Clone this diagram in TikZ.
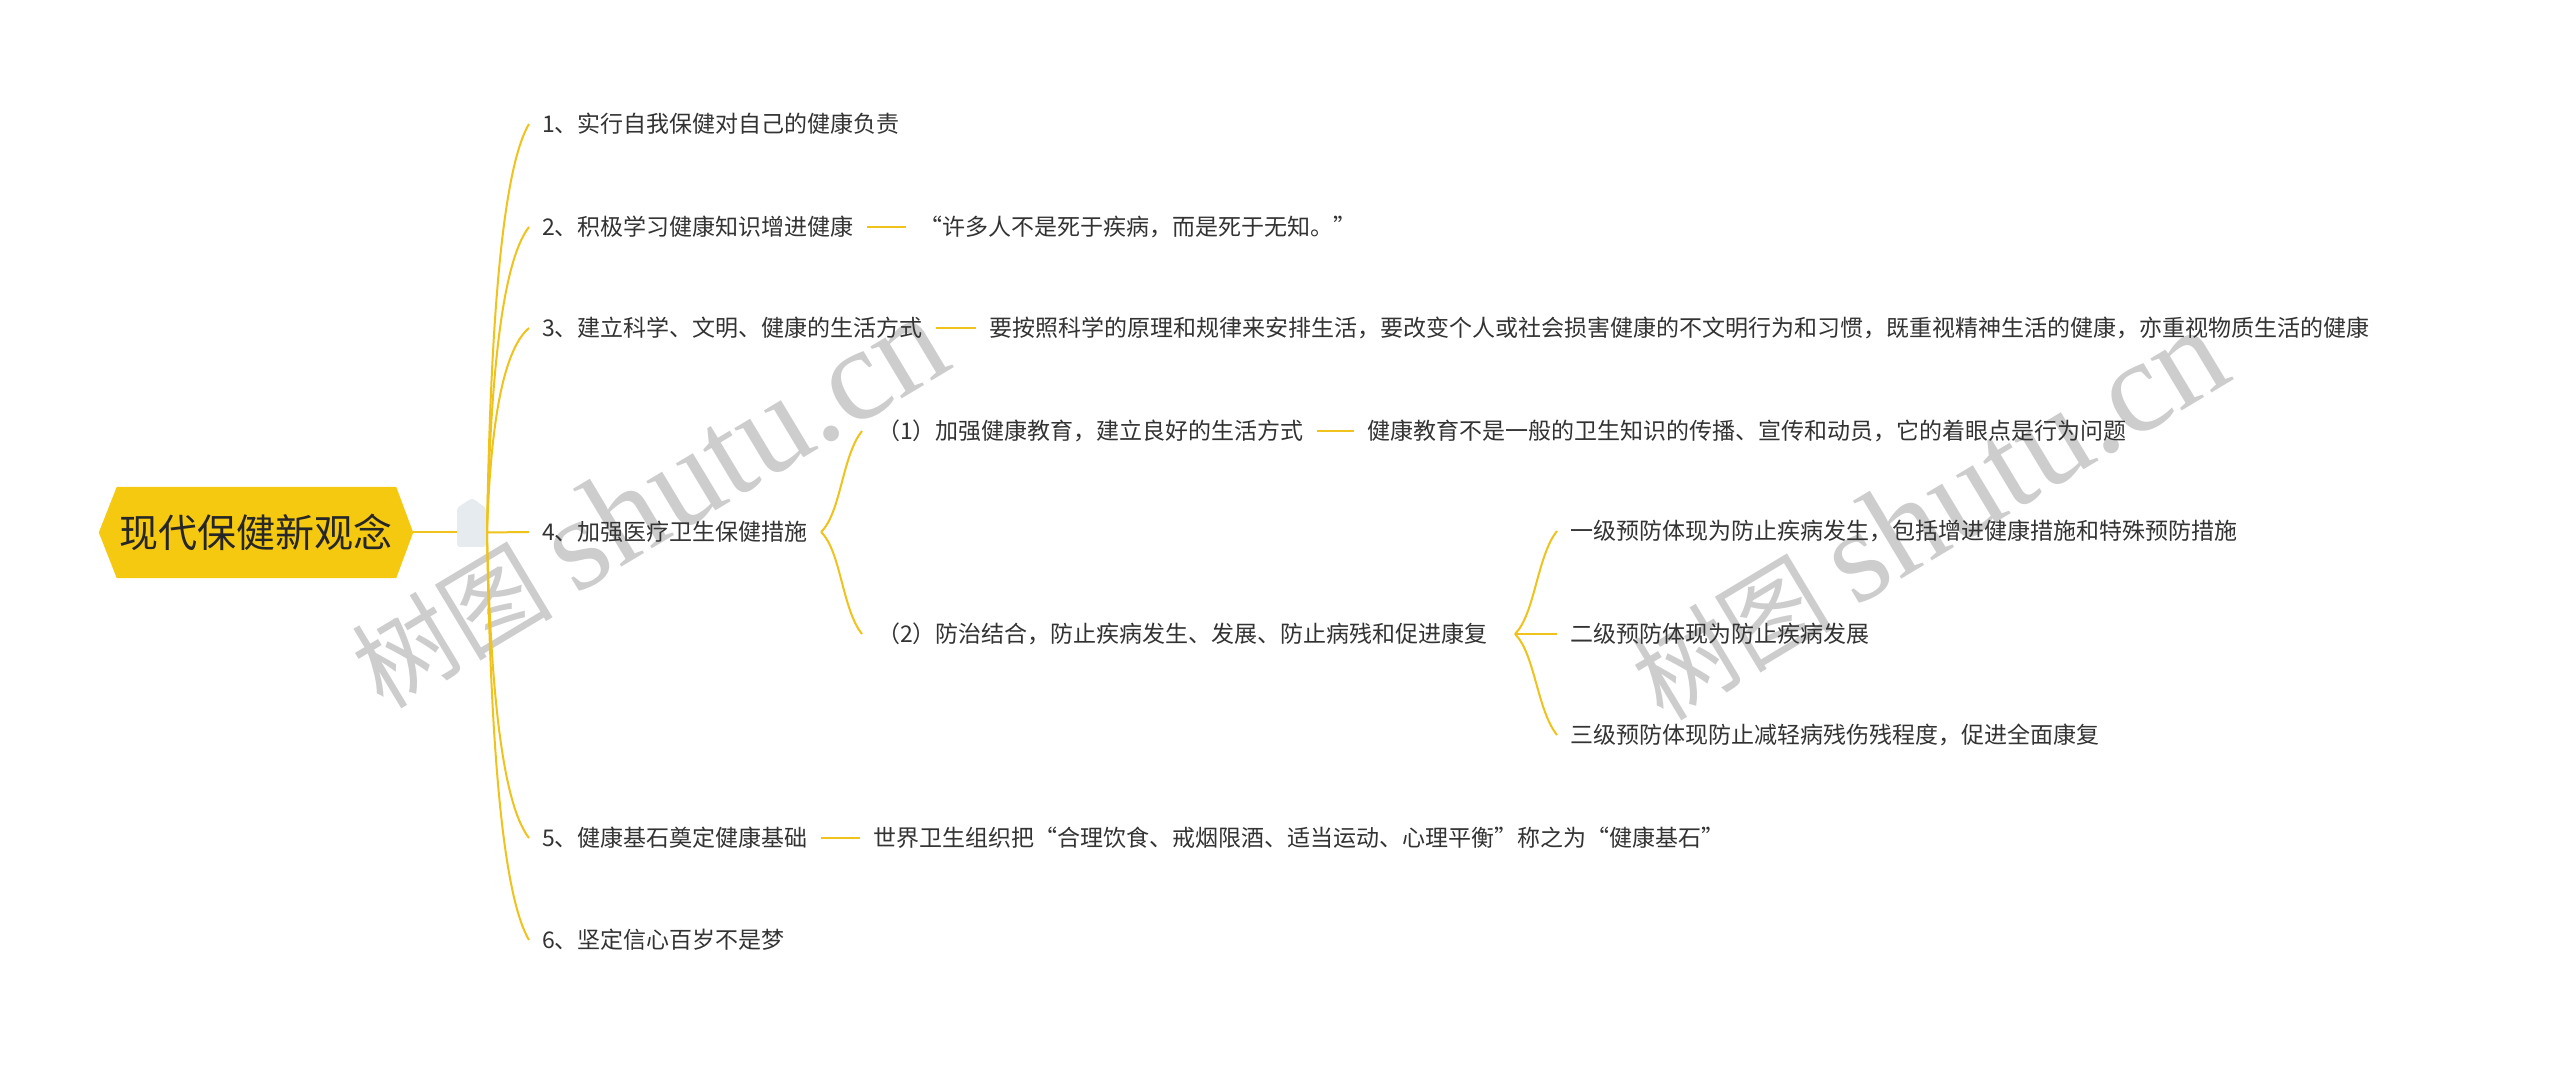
\documentclass[tikz,border=0pt]{standalone}
\usepackage{fontspec}
\setmainfont{Noto Sans CJK SC}
\newfontfamily\wmlatin{Liberation Serif}
\definecolor{brand}{HTML}{F5C90F}
\definecolor{linec}{HTML}{F0C21C}
\definecolor{txt}{HTML}{333333}
\definecolor{btn}{HTML}{E6EBF0}
\definecolor{wm}{HTML}{CDCDCD}
\begin{document}
\begin{tikzpicture}[x=1pt,y=1pt,
  every node/.style={inner ysep=4pt, inner xsep=13pt, anchor=west, text=txt,
    font=\fontsize{23}{28}\selectfont},
  link/.style={draw=linec, line width=2pt},
  rootnode/.style={anchor=center, inner sep=0pt, minimum width=314pt, minimum height=91pt,
    font=\fontsize{39}{46}\selectfont, text=black!85},
  wmark/.style={anchor=center, inner sep=0pt, text=wm, font=\fontsize{101}{130}\selectfont}]
\useasboundingbox (0,0) rectangle (2560,1065);
\fill[white] (0,0) rectangle (2560,1065);

% watermarks
\node[wmark, rotate=31] (wm1) at (648,562) {树图 {\wmlatin\fontsize{132}{150}\selectfont shutu.cn}};
\node[wmark, rotate=31] (wm2) at (1928,550) {树图 {\wmlatin\fontsize{132}{150}\selectfont shutu.cn}};

% root
\node[rootnode] (root) at (256,532.5) {};
\fill[brand] (root.west) -- ([xshift=18pt]root.north west) -- ([xshift=-17pt]root.north east)
  -- (root.east) -- ([xshift=-17pt]root.south east) -- ([xshift=18pt]root.south west) -- cycle;
\node[rootnode] (roottext) at (256,532.5) {现代保健新观念};

\coordinate (o) at (487,532.5);
\draw[link] (root.east) -- (o);
\fill[btn, rounded corners=3pt] (457,518) -- (457,557) -- (472,567) -- (486,557) -- (486,518) -- cycle;

% level 1
\node (n1) at (529,941) {1、实行自我保健对自己的健康负责};
\node (n2) at (529,838) {2、积极学习健康知识增进健康};
\node (n3) at (529,737) {3、建立科学、文明、健康的生活方式};
\node (n4) at (529,533) {4、加强医疗卫生保健措施};
\node (n5) at (529,227) {5、健康基石奠定健康基础};
\node (n6) at (529,125) {6、坚定信心百岁不是梦};

\draw[link] (o) .. controls (490,716) and (500,892) .. (n1.west);
\draw[link] (o) .. controls (490,670) and (500,801) .. (n2.west);
\draw[link] (o) .. controls (490,624.5) and (500,712.5) .. (n3.west);
\draw[link] (o) -- (n4.west);
\draw[link] (o) .. controls (490,395) and (500,264) .. (n5.west);
\draw[link] (o) .. controls (490,349) and (500,174) .. (n6.west);

% children
\node (c2) at (906,838) {“许多人不是死于疾病，而是死于无知。”};
\node (c3) at (976,737) {要按照科学的原理和规律来安排生活，要改变个人或社会损害健康的不文明行为和习惯，既重视精神生活的健康，亦重视物质生活的健康};
\node (s1) at (864,634) {（1）加强健康教育，建立良好的生活方式};
\node (s1c) at (1354,634) {健康教育不是一般的卫生知识的传播、宣传和动员，它的着眼点是行为问题};
\node (s2) at (864,431) {（2）防治结合，防止疾病发生、发展、防止病残和促进康复};
\coordinate (b2) at (1515,431);
\node (t1) at (1557,534) {一级预防体现为防止疾病发生，包括增进健康措施和特殊预防措施};
\node (t2) at (1557,431) {二级预防体现为防止疾病发展};
\node (t3) at (1557,330) {三级预防体现防止减轻病残伤残程度，促进全面康复};
\node (c5) at (860,227) {世界卫生组织把“合理饮食、戒烟限酒、适当运动、心理平衡”称之为“健康基石”};

\draw[link] (n2.east) -- (c2.west);
\draw[link] (n3.east) -- (c3.west);
\draw[link] (s1.east) -- (s1c.west);
\draw[link] (n5.east) -- (c5.west);

\draw[link] (n4.east) .. controls +(20,20) and +(-20,-25) .. ([xshift=-2pt]s1.west);
\draw[link] (n4.east) .. controls +(20,-20) and +(-20,25) .. ([xshift=-2pt]s2.west);

\draw[link] (b2) .. controls +(20,20) and +(-20,-25) .. (t1.west);
\draw[link] (b2) -- (t2.west);
\draw[link] (b2) .. controls +(20,-20) and +(-20,25) .. (t3.west);
\end{tikzpicture}
\end{document}
